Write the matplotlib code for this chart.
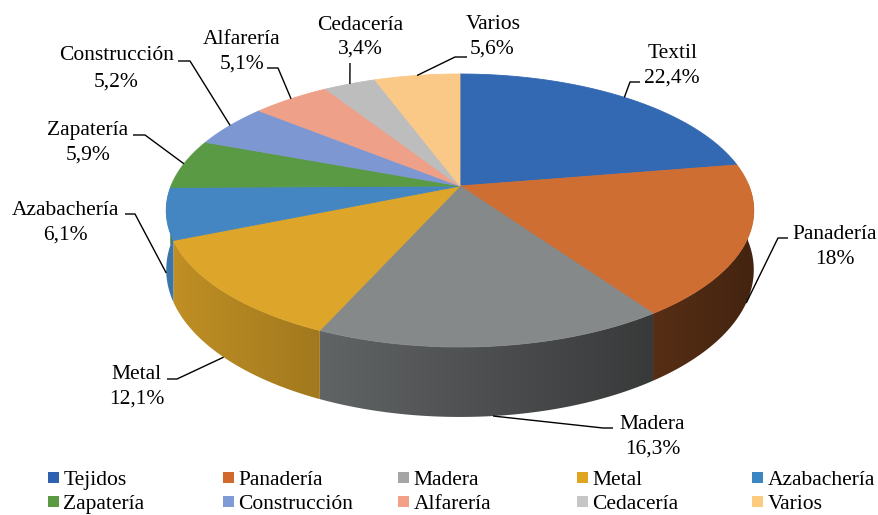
import numpy as np
import matplotlib
matplotlib.use("Agg")
import matplotlib.pyplot as plt
from matplotlib.patches import Polygon, Patch
from matplotlib.colors import to_rgb

# ---------------- data ----------------
labels = ["Textil", "Panadería", "Madera", "Metal", "Azabachería",
          "Zapatería", "Construcción", "Alfarería", "Cedacería", "Varios"]
legend_labels = ["Tejidos", "Panadería", "Madera", "Metal", "Azabachería",
                 "Zapatería", "Construcción", "Alfarería", "Cedacería", "Varios"]
values = [22.4, 18, 16.3, 12.1, 6.1, 5.9, 5.2, 5.1, 3.4, 5.6]

# ---------------- style ----------------
top_colors = ["#3368B3", "#CF6E32", "#85898A", "#DDA52A", "#4486C1",
              "#5A9A45", "#7D97D2", "#EEA088", "#BDBDBD", "#FAC987"]
legend_colors = ["#2E62B0", "#D2692C", "#A5A5A5", "#E0A520", "#3C85C4",
                 "#5B9A40", "#7E9BD6", "#F2A088", "#C6C6C6", "#FBCB80"]

FONT = "Liberation Serif"
plt.rcParams["font.family"] = [FONT, "DejaVu Serif"]
FS = 15.5

W, H = 879, 515
fig = plt.figure(figsize=(W / 100, H / 100), dpi=100)
ax = fig.add_axes([0, 0, 1, 1])
ax.axis("off")

# projection of the 3-D disk (pixel-like axes units)
CX, CY, RX, RY, PERSP, DEPTH = 460, 186, 289, 132.1, 0.1795, 57.4


def proj(theta_deg, depth=0.0):
    t = np.radians(theta_deg)
    u = np.cos(t)
    v = np.sin(t)
    s = 1 + PERSP * v
    return CX + RX * u / s, CY - RY * v / s + depth * DEPTH / s


def shade(x):
    u = (x - CX) / RX
    return np.clip(0.6 - 0.27 * u, 0.25, 0.95)


total = float(sum(values))
cum = np.concatenate([[0], np.cumsum(values)])
bounds = 90 - 360 * cum / total  # clockwise from 12 o'clock

# side walls (front part only), shaded with a horizontal gradient
for i in range(len(values)):
    a0, a1 = bounds[i], bounds[i + 1]
    angs = np.linspace(a0, a1, max(4, int(abs(a0 - a1) * 3)))
    front = angs[np.sin(np.radians(angs)) <= 0.02]
    if len(front) < 2:
        continue
    xt, yt = proj(front)
    xb, yb = proj(front, 1)
    pts = list(zip(xt, yt)) + list(zip(xb[::-1], yb[::-1]))
    poly = Polygon(pts, closed=True, facecolor="none", edgecolor="none")
    ax.add_patch(poly)
    x0, x1 = min(xt.min(), xb.min()) - 2, max(xt.max(), xb.max()) + 2
    y0, y1 = min(yt.min(), yb.min()) - 2, max(yt.max(), yb.max()) + 2
    gx = np.linspace(x0, x1, 200)
    base = np.array(to_rgb(top_colors[i]))
    img = np.clip(base[None, None, :] * shade(gx)[None, :, None], 0, 1)
    im = ax.imshow(img, extent=(x0, x1, y1, y0), origin="upper",
                   aspect="auto", interpolation="bilinear", zorder=1)
    im.set_clip_path(poly)

# top faces
for i in range(len(values)):
    a0, a1 = bounds[i], bounds[i + 1]
    n = max(3, int(abs(a0 - a1) * 2))
    angs = np.linspace(a0, a1, n)
    xs, ys = proj(angs)
    pts = [(CX, CY)] + list(zip(xs, ys))
    ax.add_patch(Polygon(pts, closed=True, facecolor=top_colors[i],
                         edgecolor=top_colors[i], linewidth=0.6, zorder=2))

# ---------------- data labels with leader lines ----------------
name_pos = [(673, 51), (835, 232), (652, 422), (137, 372), (65, 208),
            (88, 128), (117, 53), (242, 37), (360, 23), (493, 22)]
pct_pos = [(672, 76), (835, 257), (653, 447), (137, 397), (65, 233),
           (88, 153), (116, 80), (242, 62), (360, 47), (492, 47)]
lead_start = [(640, 82), (788, 238), (613, 428), (167, 379), (125, 214),
              (133, 135), (178, 61), (267, 68), (350, 63), (467, 57)]
lead_elbow = [(630, 82), (778, 238), (603, 428), (177, 379), (135, 214),
              (145, 135), (190, 61), (278, 68), (350, 63), (455, 57)]
anchor_depth = [0, 1, 1, 1, 1, 0, 0, 0, 0, 0]


def fmt(v):
    return ("%g" % v).replace(".", ",") + "%"


for i in range(len(values)):
    mid = 0.5 * (bounds[i] + bounds[i + 1])
    axx, ayy = proj(mid, anchor_depth[i])
    ax.plot([lead_start[i][0], lead_elbow[i][0], axx],
            [lead_start[i][1], lead_elbow[i][1], ayy],
            color="black", linewidth=1.0, zorder=3, solid_capstyle="butt")
    ax.text(name_pos[i][0], name_pos[i][1] + 7, labels[i], ha="center",
            va="baseline", fontsize=FS, family=FONT, color="black", zorder=4)
    ax.text(pct_pos[i][0], pct_pos[i][1] + 7, fmt(values[i]), ha="center",
            va="baseline", fontsize=FS, family=FONT, color="black", zorder=4)

ax.set_xlim(0, W)
ax.set_ylim(H, 0)

# ---------------- legend (5 columns x 2 rows) ----------------
col_x = [48, 223, 398, 577, 752]
ncol = 5
for c in range(ncol):
    idx = [c, c + ncol]
    handles = [Patch(facecolor=legend_colors[k], edgecolor="none") for k in idx]
    fig.legend(handles, [legend_labels[k] for k in idx],
               loc="center left", bbox_to_anchor=(col_x[c] / W, 1 - 492.5 / H),
               frameon=False, borderpad=0, borderaxespad=0,
               handlelength=0.52, handleheight=0.42, handletextpad=0.2,
               labelspacing=0.25, prop={"family": FONT, "size": FS})

fig.savefig("out.png", dpi=100)
